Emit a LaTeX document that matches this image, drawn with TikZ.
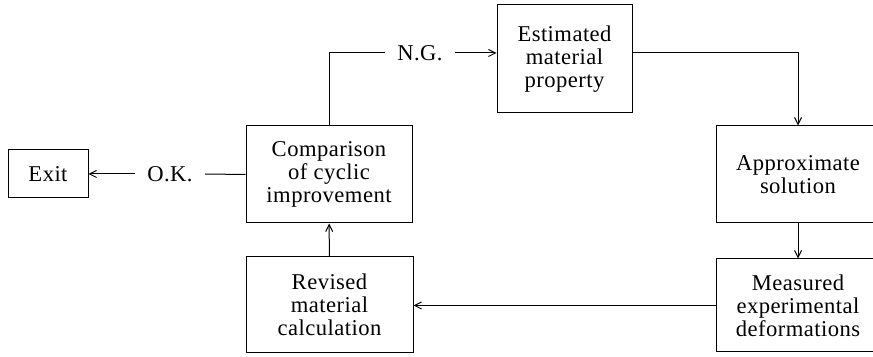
\documentclass[tikz,border=0pt]{standalone}
\usepackage{fontspec}
\setmainfont{Liberation Serif}[LetterSpace=2]
\usetikzlibrary{arrows.meta}
\begin{document}
\begin{tikzpicture}[x=0.5pt,y=-0.5pt,line width=0.5pt,>={Straight Barb[length=3.5pt,width=3.5pt]},
  font=\fontsize{11.3}{11.6}\selectfont,
  box/.style={draw,align=center,inner sep=0pt},
  lab/.style={inner xsep=6pt,inner ysep=0pt}]
\useasboundingbox (0,0) rectangle (873,357);
\clip (0,0) rectangle (873,357);
\node[box,minimum width=40pt,minimum height=24pt] (exit) at (48,174) {Exit};
\node[box,minimum width=83pt,minimum height=48.5pt] (comp) at (329,174.5) {Comparison\\of cyclic\\improvement};
\node[box,minimum width=67.5pt,minimum height=54pt] (est) at (564.5,59) {Estimated\\material\\property};
\node[box,minimum width=82pt,minimum height=48.5pt] (approx) at (798,174.5) {Approximate\\solution};
\node[box,minimum width=82pt,minimum height=46.5pt] (meas) at (798,305.5) {Measured\\experimental\\deformations};
\node[box,minimum width=83.5pt,minimum height=48pt] (rev) at (329.5,305) {Revised\\material\\calculation};
\node[lab] (ok) at (170,174) {O.K.};
\node[lab] (ng) at (420,53) {N.G.};
\draw (comp.west) -- (ok.east);
\draw[->] (ok.west) -- (exit.east);
\draw (comp.north) |- (ng.west);
\draw[->] (ng.east) -- (ng.east -| est.west);
\draw[->] (ng.east -| est.east) -| (approx.north);
\draw[->] (approx) -- (meas);
\draw[->] (meas.west) -- (meas.west -| rev.east);
\draw[->] (rev) -- (comp);
\end{tikzpicture}
\end{document}
